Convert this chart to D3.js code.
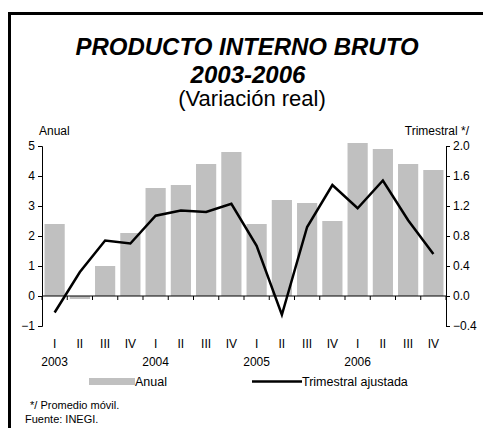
<!DOCTYPE html>
<html>
<head>
<meta charset="utf-8">
<script src="https://cdn.jsdelivr.net/npm/d3@7"></script>
<style>
  html, body { margin: 0; padding: 0; background: #fff; }
  svg { display: block; font-family: "Liberation Sans", Arial, sans-serif; }
</style>
</head>
<body>
<div id="chart"></div>
<script>
// Trimestres y años
const quarters = ['I', 'II', 'III', 'IV', 'I', 'II', 'III', 'IV', 'I', 'II', 'III', 'IV', 'I', 'II', 'III', 'IV'];
const years = ['2003', '2004', '2005', '2006'];
// Variación anual (eje izquierdo)
const anual = [2.4, -0.1, 1.0, 2.1, 3.6, 3.7, 4.4, 4.8, 2.4, 3.2, 3.1, 2.5, 5.1, 4.9, 4.4, 4.2];
// Trimestral ajustada, promedio móvil (eje derecho)
const trimestral = [-0.22, 0.32, 0.74, 0.70, 1.07, 1.14, 1.12, 1.23, 0.67, -0.25, 0.92, 1.48, 1.17, 1.54, 1.01, 0.56];
const leftTicks = [-1, 0, 1, 2, 3, 4, 5];
const rightTicks = [-0.4, 0, 0.4, 0.8, 1.2, 1.6, 2.0];

const width = 483;
const height = 428;
const plot = { left: 42, right: 446, top: 146, bottom: 326 };

const svg = d3.select('#chart')
  .append('svg')
  .attr('width', width)
  .attr('height', height);

// marco
svg.append('path')
  .attr('d', `M9.5,${height + 5} V13.5 H${width + 5}`)
  .attr('fill', 'none')
  .attr('stroke', '#000')
  .attr('stroke-width', 3);

// titulos
svg.append('text')
  .attr('x', 247).attr('y', 55)
  .attr('text-anchor', 'middle')
  .style('font-size', '24px').style('font-weight', 'bold').style('font-style', 'italic')
  .text('PRODUCTO INTERNO BRUTO');
svg.append('text')
  .attr('x', 248).attr('y', 83)
  .attr('text-anchor', 'middle')
  .style('font-size', '24px').style('font-weight', 'bold').style('font-style', 'italic')
  .text('2003-2006');
svg.append('text')
  .attr('x', 252).attr('y', 106)
  .attr('text-anchor', 'middle')
  .style('font-size', '22px')
  .text('(Variación real)');

const x = d3.scaleBand()
  .domain(d3.range(quarters.length))
  .range([plot.left, plot.right])
  .paddingInner(0.2)
  .paddingOuter(0.1);

const yLeft = d3.scaleLinear().domain([-1, 5]).range([plot.bottom, plot.top]);
const yRight = d3.scaleLinear().domain([-0.4, 2.0]).range([plot.bottom, plot.top]);

// barras
svg.append('g')
  .selectAll('rect')
  .data(anual)
  .enter()
  .append('rect')
  .attr('x', (d, i) => x(i))
  .attr('width', x.bandwidth())
  .attr('y', (d) => yLeft(Math.max(0, d)))
  .attr('height', (d) => Math.abs(yLeft(d) - yLeft(0)))
  .attr('fill', '#c0c0c0');

// eje izquierdo
svg.append('g')
  .attr('transform', `translate(${plot.left},0)`)
  .call(d3.axisLeft(yLeft).tickValues(leftTicks).tickSize(4).tickFormat(d3.format('d')))
  .call((g) => g.selectAll('text').style('font-size', '12px').attr('fill', '#000'))
  .call((g) => g.select('.domain').attr('stroke', '#000'));

// eje derecho
svg.append('g')
  .attr('transform', `translate(${plot.right},0)`)
  .call(d3.axisRight(yRight).tickValues(rightTicks).tickSize(4).tickFormat(d3.format('.1f')))
  .call((g) => g.selectAll('text').style('font-size', '12px').attr('fill', '#000'))
  .call((g) => g.select('.domain').attr('stroke', '#000'));

// eje x en cero
const step = x.step();
const boundaries = d3.range(quarters.length + 1).map((i) => plot.left + i * step);
const zeroY = yLeft(0);
svg.append('line')
  .attr('x1', plot.left).attr('x2', plot.right)
  .attr('y1', zeroY).attr('y2', zeroY)
  .attr('stroke', '#000');
svg.append('g')
  .selectAll('line')
  .data(boundaries)
  .enter()
  .append('line')
  .attr('x1', (d) => d).attr('x2', (d) => d)
  .attr('y1', zeroY).attr('y2', zeroY + 4)
  .attr('stroke', '#000');

// linea trimestral
const line = d3.line()
  .x((d, i) => x(i) + x.bandwidth() / 2)
  .y((d) => yRight(d));
svg.append('path')
  .datum(trimestral)
  .attr('fill', 'none')
  .attr('stroke', '#000')
  .attr('stroke-width', 2.5)
  .attr('stroke-linejoin', 'miter')
  .attr('d', line);

// etiquetas de ejes
svg.append('text').attr('x', 39).attr('y', 135)
  .style('font-size', '12px').text('Anual');
svg.append('text').attr('x', 469).attr('y', 135)
  .attr('text-anchor', 'end')
  .style('font-size', '12px').text('Trimestral */');

// trimestres
svg.append('g')
  .selectAll('text')
  .data(quarters)
  .enter()
  .append('text')
  .attr('x', (d, i) => x(i) + x.bandwidth() / 2)
  .attr('y', 348)
  .attr('text-anchor', 'middle')
  .style('font-size', '12px')
  .text((d) => d);

// años
svg.append('g')
  .selectAll('text')
  .data(years)
  .enter()
  .append('text')
  .attr('x', (d, i) => x(i * 4) + x.bandwidth() / 2)
  .attr('y', 366)
  .attr('text-anchor', 'middle')
  .style('font-size', '12px')
  .text((d) => d);

// leyenda
svg.append('rect')
  .attr('x', 89).attr('y', 378).attr('width', 46).attr('height', 7)
  .attr('fill', '#c0c0c0');
svg.append('text').attr('x', 135).attr('y', 386)
  .style('font-size', '12.5px').text('Anual');
svg.append('line')
  .attr('x1', 252).attr('x2', 302).attr('y1', 381.5).attr('y2', 381.5)
  .attr('stroke', '#000').attr('stroke-width', 2.5);
svg.append('text').attr('x', 302).attr('y', 386)
  .style('font-size', '12.5px').text('Trimestral ajustada');

// notas
svg.append('text').attr('x', 30).attr('y', 409)
  .style('font-size', '11px').text('*/ Promedio móvil.');
svg.append('text').attr('x', 25).attr('y', 423)
  .style('font-size', '11px').text('Fuente: INEGI.');
</script>
</body>
</html>
